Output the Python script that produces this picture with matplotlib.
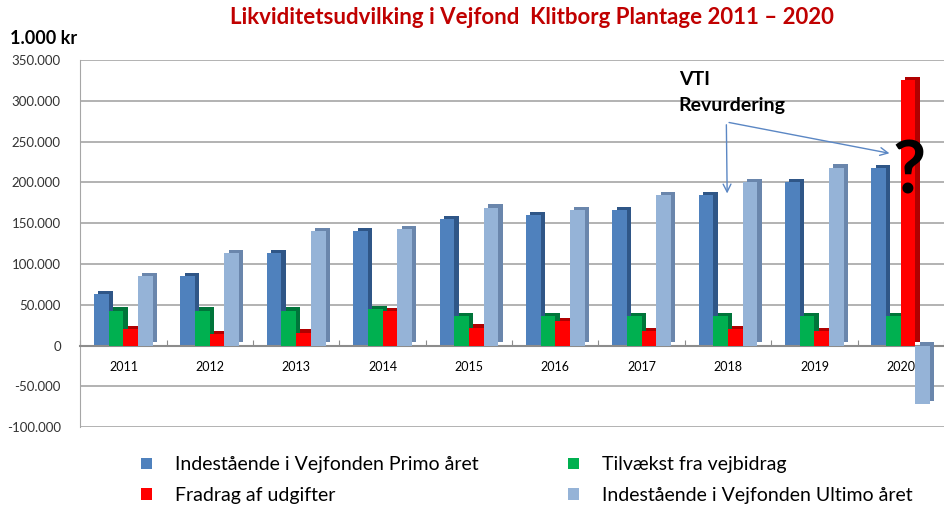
import matplotlib
matplotlib.use("Agg")
import matplotlib.pyplot as plt
from matplotlib.ticker import FuncFormatter, FixedLocator
import numpy as np

years = ["2011", "2012", "2013", "2014", "2015", "2016", "2017", "2018", "2019", "2020"]
primo = [63000, 85000, 113000, 140000, 155000, 160000, 166000, 184000, 200000, 217000]
tilvaekst = [43000, 43000, 43000, 45000, 36000, 36000, 36000, 36000, 36000, 36000]
fradrag = [20000, 14000, 16000, 42000, 22000, 30000, 18000, 20000, 18000, 325000]
ultimo = [85000, 113000, 140000, 143000, 169000, 166000, 184000, 200000, 218000, -72000]

labels = ["Indestående i Vejfonden Primo året", "Tilvækst fra vejbidrag",
          "Fradrag af udgifter", "Indestående i Vejfonden Ultimo året"]
front = ["#4F81BD", "#00B050", "#FF0000", "#95B3D7"]
side = ["#2F5687", "#00753A", "#B00000", "#6A86AC"]

plt.rcParams['font.family'] = ['Lato', 'DejaVu Sans']

fig = plt.figure(figsize=(9.44, 5.08), dpi=100)
ax = fig.add_axes([0.085, 0.159, 0.915, 0.723])

x = np.arange(len(years))
w = 0.17
dx, dy = 0.05, 4000
series = [primo, tilvaekst, fradrag, ultimo]
for k, vals in enumerate(series):
    xs = x + (k - 1.5) * w
    vals = np.array(vals)
    # fake 3d: darker block offset behind the front face
    ax.bar(xs + dx, vals, width=w, bottom=dy, color=side[k], zorder=2 + k, align="center")
    ax.bar(xs, vals, width=w, color=front[k], zorder=2 + k, label=labels[k], align="center")

ax.set_xlim(-0.435, 9.45)
ax.set_ylim(-100000, 350000)
ax.yaxis.set_major_locator(FixedLocator(np.arange(-100000, 350001, 50000)))
ax.yaxis.set_major_formatter(FuncFormatter(lambda v, p: f"{int(v):,}".replace(",", ".")))
ax.grid(axis="y", color="#A6A6A6", linewidth=1.2, zorder=0)
ax.set_axisbelow(True)

ax.spines["top"].set_visible(False)
ax.spines["right"].set_visible(False)
ax.spines["left"].set_color("#A6A6A6")
ax.spines["bottom"].set_position(("data", 0))
ax.spines["bottom"].set_color("#8C8C8C")
ax.spines["bottom"].set_linewidth(1.5)
ax.tick_params(axis="y", length=0, labelsize=9.5, labelcolor="#333333", pad=14)
ax.set_xticks(np.arange(-0.5, 10, 1))
ax.set_xticklabels([])
ax.set_xticks(x, minor=True)
ax.set_xticklabels(years, minor=True)
ax.tick_params(axis="x", which="major", length=4, color="#8C8C8C", direction="in")
ax.tick_params(axis="x", which="minor", length=0, labelsize=9, pad=11)

fig.text(0.563, 0.965, "Likviditetsudvilking i Vejfond  Klitborg Plantage 2011 – 2020",
         color="#C00000", fontsize=16, fontweight="bold", ha="center", va="center")
fig.text(0.011, 0.925, "1.000 kr", fontsize=13, fontweight="bold", ha="left", va="center")

ax.text(6.43, 326000, "VTI", fontsize=14, fontweight="bold", va="center")
ax.text(6.43, 294000, "Revurdering", fontsize=14, fontweight="bold", va="center")
ax.text(9.1, 211000, "?", fontsize=52, fontweight="bold", ha="center", va="center", zorder=10)
ap = dict(arrowstyle="->", color="#5B87C4", lw=1.0, mutation_scale=14)
ax.annotate("", xy=(6.99, 183000), xytext=(6.98, 274000), arrowprops=ap)
ax.annotate("", xy=(8.9, 235000), xytext=(6.98, 274000), arrowprops=ap)

h, l = ax.get_legend_handles_labels()
order = [0, 2, 1, 3]
fig.legend([h[i] for i in order], [l[i] for i in order], ncol=2, frameon=False,
           loc="center", bbox_to_anchor=(0.558, 0.055), fontsize=14,
           handlelength=0.55, handleheight=0.55, columnspacing=4.6, labelspacing=0.7,
           handletextpad=1.2)

fig.savefig("out.png", dpi=100)
